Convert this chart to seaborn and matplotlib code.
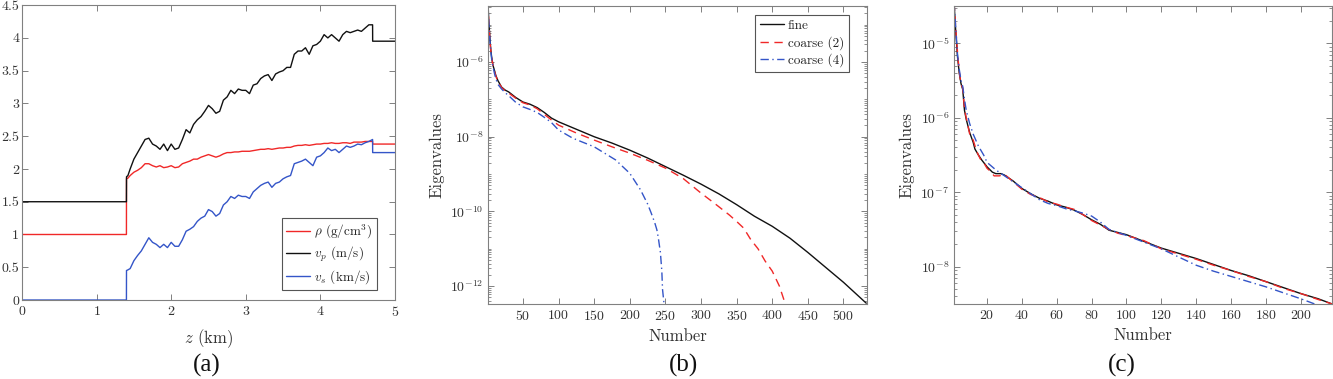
import numpy as np
import matplotlib
matplotlib.use("Agg")
import matplotlib.pyplot as plt
import seaborn as sns
from matplotlib.ticker import FixedLocator, FuncFormatter, LogLocator, NullFormatter

# ---- panel (a): depth profiles ----
z_km = [0.0, 1.40, 1.401, 1.42, 1.45, 1.50, 1.55, 1.60, 1.65, 1.70, 1.75, 1.80, 1.85, 1.90, 1.95,
        2.00, 2.05, 2.10, 2.15, 2.20, 2.25, 2.30, 2.35, 2.40, 2.45, 2.50, 2.55, 2.60, 2.65,
        2.70, 2.75, 2.80, 2.85, 2.90, 2.95, 3.00, 3.05, 3.10, 3.15, 3.20, 3.25, 3.30, 3.35,
        3.40, 3.45, 3.50, 3.55, 3.60, 3.65, 3.70, 3.75, 3.80, 3.85, 3.90, 3.95, 4.00, 4.05,
        4.10, 4.15, 4.20, 4.25, 4.30, 4.35, 4.40, 4.45, 4.50, 4.55, 4.60, 4.65, 4.70, 4.701, 5.0]
rho = [1.0, 1.0, 1.85, 1.86, 1.90, 1.95, 1.98, 2.02, 2.08, 2.08, 2.05, 2.03, 2.05, 2.02, 2.03,
       2.05, 2.02, 2.03, 2.08, 2.10, 2.12, 2.15, 2.15, 2.18, 2.20, 2.22, 2.20, 2.18, 2.20,
       2.23, 2.25, 2.25, 2.26, 2.26, 2.27, 2.27, 2.27, 2.28, 2.29, 2.30, 2.30, 2.31, 2.30,
       2.31, 2.32, 2.32, 2.33, 2.33, 2.35, 2.36, 2.36, 2.37, 2.36, 2.37, 2.38, 2.38, 2.39,
       2.39, 2.40, 2.39, 2.39, 2.40, 2.40, 2.39, 2.41, 2.41, 2.41, 2.42, 2.42, 2.42, 2.38, 2.38]
vp = [1.5, 1.5, 1.88, 1.90, 2.00, 2.15, 2.25, 2.35, 2.45, 2.47, 2.38, 2.35, 2.30, 2.38, 2.28,
      2.38, 2.30, 2.32, 2.45, 2.60, 2.55, 2.68, 2.75, 2.80, 2.88, 2.97, 2.92, 2.85, 2.88,
      3.05, 3.10, 3.20, 3.15, 3.22, 3.20, 3.20, 3.15, 3.28, 3.30, 3.38, 3.42, 3.44, 3.35,
      3.45, 3.48, 3.50, 3.55, 3.55, 3.75, 3.80, 3.80, 3.85, 3.75, 3.88, 3.90, 3.95, 4.05,
      4.00, 4.05, 4.00, 3.95, 4.05, 4.10, 4.08, 4.10, 4.12, 4.10, 4.15, 4.20, 4.20, 3.95, 3.95]
vs = [0.0, 0.0, 0.45, 0.46, 0.48, 0.60, 0.68, 0.75, 0.85, 0.95, 0.88, 0.85, 0.80, 0.85, 0.80,
      0.88, 0.82, 0.82, 0.92, 1.05, 1.08, 1.12, 1.20, 1.25, 1.28, 1.38, 1.35, 1.28, 1.32,
      1.45, 1.50, 1.58, 1.55, 1.60, 1.58, 1.58, 1.55, 1.65, 1.70, 1.75, 1.78, 1.80, 1.72,
      1.78, 1.80, 1.85, 1.88, 1.90, 2.08, 2.10, 2.12, 2.15, 2.10, 2.05, 2.18, 2.20, 2.25,
      2.32, 2.28, 2.30, 2.25, 2.30, 2.35, 2.33, 2.35, 2.38, 2.37, 2.40, 2.42, 2.45, 2.25, 2.25]

# ---- panel (b): eigenvalue decay (log10 of eigenvalue) ----
n_fine_b = [1, 2, 3, 4, 5, 6, 8, 10, 12, 15, 20, 25, 30, 40, 50, 60, 70, 80, 90, 100, 125, 150,
            175, 200, 225, 250, 275, 300, 325, 350, 375, 400, 425, 450, 475, 500, 532]
log_fine_b = [-4.4, -4.9, -5.16, -5.45, -5.69, -5.85, -6.09, -6.22, -6.36, -6.5, -6.67, -6.75,
              -6.8, -6.95, -7.07, -7.13, -7.22, -7.35, -7.5, -7.6, -7.8, -8.0, -8.17, -8.36,
              -8.57, -8.8, -9.03, -9.27, -9.53, -9.82, -10.13, -10.4, -10.72, -11.1, -11.5,
              -11.9, -12.46]
n_c2_b = [1, 2, 3, 4, 5, 6, 8, 10, 12, 15, 20, 25, 30, 40, 50, 60, 70, 80, 90, 100, 125, 150,
          175, 200, 225, 250, 275, 300, 320, 340, 350, 360, 370, 380, 390, 400, 410, 418]
log_c2_b = [-4.4, -4.9, -5.2, -5.5, -5.72, -5.88, -6.1, -6.24, -6.38, -6.52, -6.68, -6.77,
            -6.83, -6.97, -7.09, -7.15, -7.25, -7.4, -7.55, -7.69, -7.9, -8.09, -8.27, -8.44,
            -8.63, -8.84, -9.12, -9.51, -9.8, -10.1, -10.27, -10.45, -10.76, -11.0, -11.33,
            -11.6, -12.0, -12.46]
n_c4_b = [1, 2, 3, 4, 5, 6, 8, 10, 12, 15, 20, 25, 30, 40, 50, 60, 70, 80, 90, 100, 120, 150,
          180, 200, 215, 225, 230, 235, 238, 240, 243, 245, 246, 248]
log_c4_b = [-4.4, -4.9, -5.2, -5.5, -5.72, -5.9, -6.12, -6.3, -6.45, -6.6, -6.72, -6.82, -6.9,
            -7.08, -7.2, -7.27, -7.35, -7.48, -7.62, -7.82, -8.04, -8.27, -8.62, -8.98, -9.42,
            -9.8, -10.04, -10.3, -10.49, -10.7, -11.1, -11.6, -12.09, -12.46]

# ---- panel (c) ----
n_fine_c = [1, 2, 3, 4, 5, 6, 7, 8, 10, 12, 13, 15, 17, 20, 23, 25, 28, 30, 35, 40, 45, 50, 55,
            60, 65, 70, 75, 80, 85, 90, 95, 100, 110, 120, 130, 140, 150, 160, 170, 180, 190,
            200, 210, 218]
log_fine_c = [-4.45, -4.85, -5.18, -5.4, -5.54, -5.62, -5.9, -6.02, -6.2, -6.33, -6.42, -6.5,
              -6.57, -6.66, -6.73, -6.75, -6.75, -6.77, -6.85, -6.95, -7.02, -7.08, -7.12,
              -7.17, -7.2, -7.24, -7.3, -7.37, -7.43, -7.51, -7.54, -7.57, -7.66, -7.75, -7.82,
              -7.89, -7.97, -8.05, -8.12, -8.2, -8.28, -8.36, -8.43, -8.5]
n_c2_c = [1, 2, 3, 4, 5, 6, 7, 8, 10, 12, 14, 16, 18, 20, 22, 24, 27, 30, 35, 40, 45, 50, 55,
          60, 65, 70, 75, 80, 85, 90, 95, 100, 110, 120, 130, 140, 150, 160, 170, 180, 190,
          200, 210, 218]
log_c2_c = [-4.45, -4.8, -5.12, -5.38, -5.55, -5.6, -5.88, -6.0, -6.22, -6.3, -6.45, -6.55,
            -6.6, -6.68, -6.72, -6.78, -6.78, -6.76, -6.86, -6.96, -7.03, -7.07, -7.13, -7.16,
            -7.2, -7.23, -7.3, -7.38, -7.44, -7.5, -7.55, -7.58, -7.65, -7.76, -7.83, -7.9,
            -7.98, -8.05, -8.13, -8.2, -8.29, -8.36, -8.44, -8.5]
n_c4_c = [1, 2, 3, 4, 5, 6, 7, 8, 10, 12, 15, 18, 20, 25, 30, 35, 40, 45, 50, 55, 60, 65, 70,
          75, 80, 85, 90, 100, 110, 120, 130, 140, 150, 160, 170, 180, 190, 200, 208]
log_c4_c = [-4.45, -4.8, -5.15, -5.35, -5.5, -5.58, -5.75, -5.9, -6.08, -6.22, -6.38, -6.5,
            -6.6, -6.7, -6.78, -6.86, -6.94, -7.02, -7.1, -7.15, -7.18, -7.22, -7.25, -7.28,
            -7.32, -7.4, -7.5, -7.58, -7.67, -7.76, -7.87, -7.98, -8.06, -8.13, -8.2, -8.27,
            -8.35, -8.43, -8.5]

RED = "#f02828"
BLACK = "#111111"
BLUE = "#3455c8"
SPINE = "#808080"
TXT = "#333333"

sns.set_style("ticks")
plt.rcParams["font.family"] = ["cmr10"]
plt.rcParams["mathtext.fontset"] = "cm"
plt.rcParams["axes.formatter.use_mathtext"] = True
plt.rcParams["axes.unicode_minus"] = False

fig = plt.figure(figsize=(13.33, 3.79), dpi=100)
ax_a = fig.add_axes([0.0165, 0.2084, 0.2798, 0.778])
ax_b = fig.add_axes([0.3661, 0.198, 0.2843, 0.786])
ax_c = fig.add_axes([0.7157, 0.198, 0.2836, 0.786])


def style_axes(ax):
    for s in ax.spines.values():
        s.set_color(SPINE)
        s.set_linewidth(0.8)
    ax.tick_params(which="both", direction="in", top=True, right=True,
                   color=SPINE, labelcolor=TXT, labelsize=10)
    ax.tick_params(which="major", length=4, width=0.7)
    ax.tick_params(which="minor", length=2, width=0.6)


LEG_KW = dict(fontsize=9.5, frameon=True, fancybox=False, framealpha=1, edgecolor="#555555",
              handlelength=1.8, borderpad=0.35, labelspacing=0.3, handletextpad=0.3,
              borderaxespad=0.0)

# (a)
sns.lineplot(x=z_km, y=rho, ax=ax_a, color=RED, lw=1.0, estimator=None, sort=False,
             label=r"$\rho$ (g/cm$^3$)")
sns.lineplot(x=z_km, y=vp, ax=ax_a, color=BLACK, lw=1.0, estimator=None, sort=False,
             label=r"$v_p$ (m/s)")
sns.lineplot(x=z_km, y=vs, ax=ax_a, color=BLUE, lw=1.0, estimator=None, sort=False,
             label=r"$v_s$ (km/s)")
ax_a.set_xlim(0, 5)
ax_a.set_ylim(0, 4.5)
ax_a.set_xticks([0, 1, 2, 3, 4, 5])
ax_a.set_yticks(np.arange(0, 4.51, 0.5))
ax_a.set_yticklabels(["0", "0.5", "1", "1.5", "2", "2.5", "3", "3.5", "4", "4.5"])
ax_a.set_xlabel(r"$z$ (km)", fontsize=12, color=TXT, labelpad=6)
ax_a.set_ylabel("")
style_axes(ax_a)
ax_a.tick_params(axis="y", pad=2)
leg = ax_a.legend(loc="lower right", bbox_to_anchor=(0.952, 0.033), **LEG_KW)
leg.get_frame().set_linewidth(0.8)

# (b) and (c)
pow_fmt = FuncFormatter(lambda v, p: r"$10^{%d}$" % round(np.log10(v)))

b_series = [(n_fine_b, log_fine_b, BLACK, "-", "fine"),
            (n_c2_b, log_c2_b, RED, (0, (6, 4)), "coarse (2)"),
            (n_c4_b, log_c4_b, BLUE, (0, (6, 2.5, 1, 2.5)), "coarse (4)")]
for n, lg, col, ls, lab in b_series:
    sns.lineplot(x=n, y=10.0 ** np.array(lg), ax=ax_b, color=col, lw=1.0, linestyle=ls,
                 estimator=None, sort=False, label=lab)
ax_b.set_yscale("log")
ax_b.set_xlim(1, 533)
ax_b.set_ylim(10 ** -12.48, 10 ** -4.5)
ax_b.set_xticks(np.arange(50, 501, 50))
ax_b.yaxis.set_major_locator(FixedLocator([1e-12, 1e-10, 1e-8, 1e-6]))
ax_b.yaxis.set_major_formatter(pow_fmt)
ax_b.yaxis.set_minor_locator(LogLocator(base=10, subs=np.arange(1, 10), numticks=30))
ax_b.yaxis.set_minor_formatter(NullFormatter())
ax_b.set_xlabel("Number", fontsize=12, color=TXT, labelpad=4)
ax_b.set_ylabel("Eigenvalues", fontsize=12, color=TXT, labelpad=4)
style_axes(ax_b)
leg_b = ax_b.legend(loc="upper right", bbox_to_anchor=(0.952, 0.97), **LEG_KW)
leg_b.get_frame().set_linewidth(0.8)

c_series = [(n_fine_c, log_fine_c, BLACK, "-"),
            (n_c2_c, log_c2_c, RED, (0, (6, 4))),
            (n_c4_c, log_c4_c, BLUE, (0, (6, 2.5, 1, 2.5)))]
for n, lg, col, ls in c_series:
    sns.lineplot(x=n, y=10.0 ** np.array(lg), ax=ax_c, color=col, lw=1.0, linestyle=ls,
                 estimator=None, sort=False)
ax_c.set_yscale("log")
ax_c.set_xlim(1, 218)
ax_c.set_ylim(10 ** -8.5, 10 ** -4.5)
ax_c.set_xticks(np.arange(20, 201, 20))
ax_c.yaxis.set_major_locator(FixedLocator([1e-8, 1e-7, 1e-6, 1e-5]))
ax_c.yaxis.set_major_formatter(pow_fmt)
ax_c.yaxis.set_minor_locator(LogLocator(base=10, subs=np.arange(1, 10), numticks=30))
ax_c.yaxis.set_minor_formatter(NullFormatter())
ax_c.set_xlabel("Number", fontsize=12, color=TXT, labelpad=4)
ax_c.set_ylabel("Eigenvalues", fontsize=12, color=TXT, labelpad=4)
style_axes(ax_c)

for xc, lab in [(207, "(a)"), (683, "(b)"), (1122, "(c)")]:
    fig.text(xc / 1333, 1 - 365 / 379, lab, ha="center", va="center", fontsize=18,
             family="Liberation Serif", color="#111111")

fig.savefig("out.png", dpi=100)
